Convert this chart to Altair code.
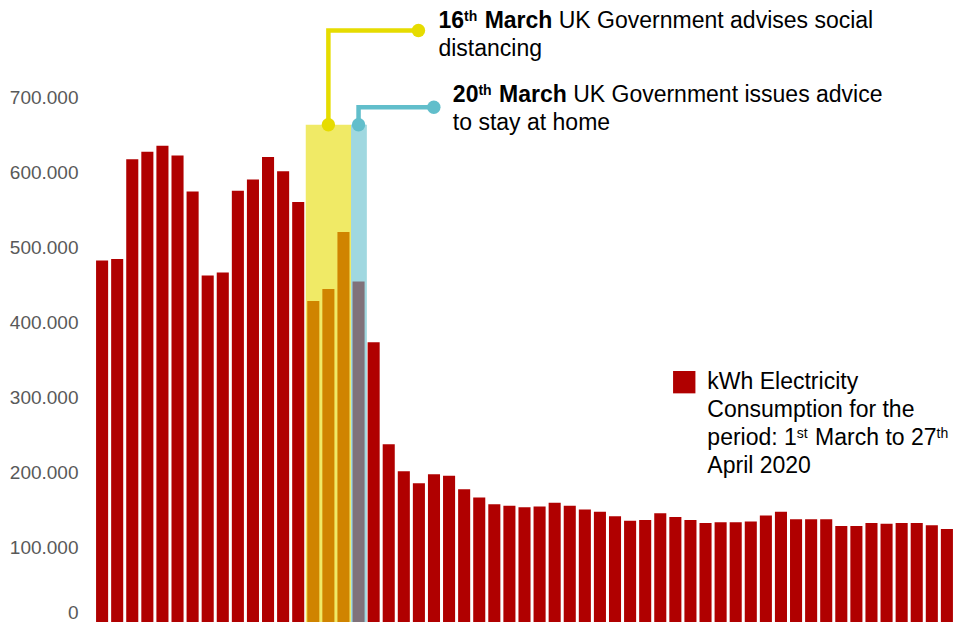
import altair as alt
import pandas as pd

# ---------------- data ----------------
kwh = [482000, 484000, 617000, 627000, 635000, 622000, 574000, 462000, 466000, 575000,
       590000, 620000, 601000, 560000, 428000, 444000, 520000, 454000, 373000, 237000,
       201000, 185000, 197000, 195000, 177000, 166000, 157000, 155000, 153000, 154000,
       159000, 155000, 150000, 147000, 141000, 135000, 136000, 145000, 140000, 136000,
       132000, 133000, 133000, 134000, 142000, 147000, 137000, 137000, 137000, 128000,
       128000, 132000, 131000, 132000, 132000, 129000, 124000]
dates = pd.date_range("2020-03-01", periods=len(kwh), freq="D").strftime("%Y-%m-%d").tolist()

y_ticks = [0, 100000, 200000, 300000, 400000, 500000, 600000, 700000]

# call-outs
event_bar = [15, 17]
event_day = ["16", "20"]
event_sup = ["th", "th"]
event_month = ["March", "March"]
event_line1 = ["UK Government advises social", "UK Government issues advice"]
event_line2 = ["distancing", "to stay at home"]
event_color = ["#E6DC00", "#61BECB"]
band_start = [13.5, 16.5]
band_end = [16.5, 17.55]
band_top = 663000
leader_level = [788700, 686300]
leader_end = [20.97, 21.99]

# legend
legend_x = 40.12
legend_y = 310300
legend_lines = [
    [("kWh Electricity", False)],
    [("Consumption for the", False)],
    [("period: 1", False), ("st", True), (" March to 27", False), ("th", True)],
    [("April 2020", False)],
]

# ---------------- geometry / style ----------------
W, H = 857, 614
PAD_LEFT, PAD_TOP = 88, 0
X_DOM = [-0.404, 56.404]
Y_DOM = [0, 818667]
UX = W / (X_DOM[1] - X_DOM[0])
UY = H / (Y_DOM[1] - Y_DOM[0])
FONT = "Liberation Sans"
MAIN, SUP, RAISE, LINE_H = 23, 14, 7, 28
RED = "#B00000"

REG = {' ': 278, '.': 278, ':': 278, 'a': 556, 'b': 556, 'c': 500, 'd': 556, 'e': 556,
       'f': 278, 'g': 556, 'h': 556, 'i': 222, 'k': 500, 'l': 222, 'm': 833, 'n': 556,
       'o': 556, 'p': 556, 'r': 333, 's': 500, 't': 278, 'u': 556, 'v': 500, 'w': 722,
       'y': 500, 'A': 667, 'C': 722, 'E': 667, 'G': 778, 'K': 667, 'M': 833, 'U': 722,
       'W': 944}
BOLD = {' ': 278, 'a': 556, 'c': 556, 'h': 611, 'r': 389, 's': 556, 't': 333, 'M': 833,
        'e': 556}


def tw(s, size, bold):
    t = BOLD if bold else REG
    return sum(t.get(c, 556) for c in s) * size / 1000.0


def place(ax, ay, dx, dy):
    return ax + dx / UX, ay - dy / UY


rows = []


def add_line(ax, ay, dx0, dy0, parts):
    cx = dx0
    for text, bold, sup in parts:
        size = SUP if sup else MAIN
        if text.startswith(" "):
            cx += tw(" ", MAIN, bold)
            text = text.lstrip()
        x, y = place(ax, ay, cx, dy0 - (RAISE if sup else 0))
        rows.append(dict(x=x, y=y, text=text, size=size, weight="bold" if bold else "normal"))
        cx += tw(text, size, bold) + (1 if sup else 0)


text_dx = [20, 19]
text_dy = [-2, -5]
for i in range(2):
    ax, ay = leader_end[i], leader_level[i]
    add_line(ax, ay, text_dx[i], text_dy[i], [
        (event_day[i], True, False), (event_sup[i], True, True),
        (" " + event_month[i], True, False), (" " + event_line1[i], False, False)])
    add_line(ax, ay, text_dx[i], text_dy[i] + LINE_H, [(event_line2[i], False, False)])

for k, line in enumerate(legend_lines):
    add_line(legend_x, legend_y, 0, k * LINE_H, [(t, False, s) for t, s in line])

text_df = pd.DataFrame(rows)

xs = alt.Scale(domain=X_DOM, nice=False, zero=False)
ys = alt.Scale(domain=Y_DOM, nice=False, zero=True)

bars_df = pd.DataFrame({"date": dates, "kwh": kwh, "day": list(range(len(kwh)))})

bars = alt.Chart(bars_df).transform_calculate(
    x0="datum.day - 0.4", x1="datum.day + 0.4"
).mark_bar(color=RED).encode(
    x=alt.X("x0:Q", scale=xs, axis=None),
    x2="x1:Q",
    y=alt.Y("kwh:Q", scale=ys, axis=alt.Axis(
        values=y_ticks, title=None, domain=False, ticks=False, grid=False,
        labelExpr="datum.value == 0 ? '0' : format(datum.value / 1000, 'd') + '.000'",
        labelFont=FONT, labelFontSize=19, labelColor="#595959", labelPadding=18,
        labelFlush=True, labelOverlap=False, orient="left")),
    y2=alt.datum(0),
    tooltip=["date:N", "kwh:Q"],
)

bands_df = pd.DataFrame({"start": band_start, "end": band_end,
                         "top": [band_top] * 2, "color": event_color})
bands = alt.Chart(bands_df).mark_rect(opacity=0.6).encode(
    x=alt.X("start:Q", scale=xs, axis=None), x2="end:Q",
    y=alt.Y("top:Q", scale=ys, axis=None), y2=alt.datum(0),
    color=alt.Color("color:N", scale=None),
)

lead_rows, dot_rows = [], []
for i in range(2):
    pts = [(event_bar[i], band_top), (event_bar[i], leader_level[i]),
           (leader_end[i], leader_level[i])]
    for o, (x, y) in enumerate(pts):
        lead_rows.append(dict(event=i, order=o, x=x, y=y, color=event_color[i]))
    dot_rows.append(dict(x=pts[0][0], y=pts[0][1], color=event_color[i]))
    dot_rows.append(dict(x=pts[2][0], y=pts[2][1], color=event_color[i]))

leaders = alt.Chart(pd.DataFrame(lead_rows)).mark_line(
    strokeWidth=4.5, strokeJoin="miter").encode(
    x=alt.X("x:Q", scale=xs, axis=None),
    y=alt.Y("y:Q", scale=ys, axis=None),
    detail="event:N", order="order:Q",
    color=alt.Color("color:N", scale=None),
)
dots = alt.Chart(pd.DataFrame(dot_rows)).mark_circle(size=180, opacity=1).encode(
    x=alt.X("x:Q", scale=xs, axis=None),
    y=alt.Y("y:Q", scale=ys, axis=None),
    color=alt.Color("color:N", scale=None),
)


def text_layer(weight):
    return alt.Chart(text_df).transform_filter(
        alt.datum.weight == weight
    ).mark_text(align="left", baseline="alphabetic", font=FONT, fontWeight=weight,
                color="#000000").encode(
        x=alt.X("x:Q", scale=xs, axis=None),
        y=alt.Y("y:Q", scale=ys, axis=None),
        text="text:N",
        size=alt.Size("size:Q", scale=None, legend=None),
    )


sq_x, sq_y = place(legend_x, legend_y, -23.1, -7.1)
legend_sq = alt.Chart(pd.DataFrame({"x": [sq_x], "y": [sq_y]})).mark_square(
    size=500, color=RED, opacity=1).encode(
    x=alt.X("x:Q", scale=xs, axis=None),
    y=alt.Y("y:Q", scale=ys, axis=None),
)

chart = alt.layer(
    bars, bands, leaders, dots, text_layer("normal"), text_layer("bold"), legend_sq
).resolve_axis(y="independent").properties(
    width=W, height=H,
    autosize=alt.AutoSizeParams(type="none"),
    padding={"left": PAD_LEFT, "top": PAD_TOP, "right": 0, "bottom": 0},
    background="white",
).configure_view(stroke=None)

chart.save("out.html", embed_options={"renderer": "svg", "actions": False})
